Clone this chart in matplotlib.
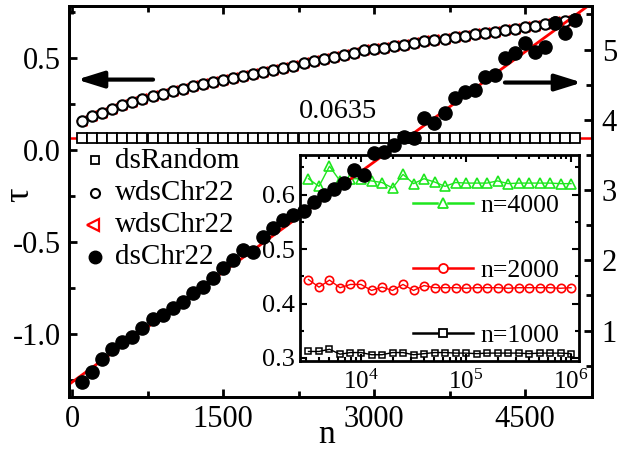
import numpy as np
import matplotlib
matplotlib.use('Agg')
import matplotlib.pyplot as plt
from matplotlib.ticker import MultipleLocator, LogLocator, NullFormatter, FormatStrFormatter

plt.rcParams['font.family'] = ['Liberation Serif', 'DejaVu Serif']
plt.rcParams['mathtext.fontset'] = 'stix'
plt.rcParams['axes.unicode_minus'] = False

# main panel data
n = list(range(100, 5001, 100))
tau_random = 0.0635
tau_wds = [0.156, 0.183, 0.201, 0.223, 0.241, 0.258, 0.277, 0.291, 0.305, 0.318,
           0.331, 0.345, 0.358, 0.369, 0.381, 0.390, 0.401, 0.414, 0.424, 0.435,
           0.446, 0.457, 0.469, 0.484, 0.495, 0.504, 0.516, 0.525, 0.539, 0.547,
           0.552, 0.561, 0.570, 0.579, 0.588, 0.597, 0.603, 0.612, 0.619, 0.626,
           0.634, 0.641, 0.648, 0.655, 0.664, 0.673, 0.682, 0.691, 0.700, 0.708]
ds_chr22 = [0.263, 0.405, 0.589, 0.731, 0.831, 0.915, 1.044, 1.158, 1.229, 1.328,
            1.413, 1.541, 1.626, 1.754, 1.896, 2.010, 2.152, 2.123, 2.337, 2.465,
            2.579, 2.649, 2.706, 2.834, 2.933, 3.018, 3.104, 3.288, 3.217, 3.530,
            3.544, 3.643, 3.757, 3.743, 4.027, 3.956, 4.098, 4.311, 4.396, 4.425,
            4.609, 4.638, 4.879, 4.950, 5.092, 4.964, 5.036, 5.377, 5.234, 5.419]
fit_a = 0.265
fit_b = 0.001045

# inset data
L = [3162, 3981, 5012, 6310, 7943, 10000, 12589, 15849, 19953, 25119, 31623, 39811, 50119,
     63096, 79433, 100000, 125893, 158489, 199526, 251189, 316228, 398107, 501187, 630957,
     794328, 1000000]
tau_n4000 = [0.629, 0.615, 0.652, 0.625, 0.629, 0.629, 0.625, 0.622, 0.612, 0.637, 0.620, 0.629, 0.623,
             0.615, 0.622, 0.621, 0.621, 0.621, 0.625, 0.620, 0.621, 0.621, 0.621, 0.621, 0.620, 0.620]
tau_n2000 = [0.444, 0.430, 0.443, 0.429, 0.435, 0.435, 0.424, 0.430, 0.424, 0.435, 0.424, 0.433, 0.429,
             0.429, 0.429, 0.428, 0.429, 0.429, 0.429, 0.428, 0.429, 0.429, 0.429, 0.429, 0.428, 0.429]
tau_n1000 = [0.312, 0.312, 0.316, 0.307, 0.310, 0.310, 0.306, 0.306, 0.310, 0.310, 0.306, 0.308, 0.310,
             0.310, 0.309, 0.309, 0.308, 0.309, 0.309, 0.309, 0.309, 0.308, 0.309, 0.309, 0.309, 0.308]

green = '#1ee61e'

fig = plt.figure(figsize=(6.17, 4.55), dpi=100)
ax = fig.add_axes([0.1118, 0.1275, 0.8477, 0.8593])
ax.set_zorder(0)

ax.axhline(tau_random, color='red', lw=1.8, zorder=1)
ax.plot(n, [tau_random] * len(n), 's', ms=7.3, mfc='white', mec='black', mew=1.3, zorder=2)
ax.plot(n, tau_wds, '<', ms=7.5, mfc='none', mec='red', mew=1.3, zorder=2)
ax.plot(n, tau_wds, 'o', ms=7.5, mfc='white', mec='black', mew=1.5, zorder=3)

ax.set_xlim(-30, 5165)
ax.set_ylim(-1.34, 0.78)
ax.xaxis.set_major_locator(MultipleLocator(1500))
ax.xaxis.set_minor_locator(MultipleLocator(750))
ax.yaxis.set_major_locator(MultipleLocator(0.5))
ax.yaxis.set_minor_locator(MultipleLocator(0.25))
ax.yaxis.set_major_formatter(FormatStrFormatter('%.1f'))
ax.tick_params(which='both', direction='in', top=True, right=False, width=2, labelsize=22, pad=6)
ax.tick_params(which='major', length=6)
ax.tick_params(which='minor', length=4)
for s in ax.spines.values():
    s.set_linewidth(2)
ax.text(0.493, -0.0972, 'n', ha='center', va='center', fontsize=24, transform=ax.transAxes)
ax.text(-0.094, 0.517, 'τ', rotation=90, ha='center', va='center', fontsize=26,
        transform=ax.transAxes)

ax.text(2640, 0.21, '0.0635', fontsize=20.5, ha='center', va='center')
arrow = dict(arrowstyle='-|>,head_length=0.8,head_width=0.25', lw=3, color='black',
             mutation_scale=20, shrinkA=0, shrinkB=0)
ax.annotate('', xy=(50, 0.381), xytext=(805, 0.381), arrowprops=arrow)
ax.annotate('', xy=(5065, 0.365), xytext=(4300, 0.365), arrowprops=arrow)

# legend of the main panel
ax.plot([0.0497], [0.606], 's', ms=5.5, mfc='white', mec='black', mew=1.3, transform=ax.transAxes)
ax.plot([0.0497], [0.522], 'o', ms=6.5, mfc='white', mec='black', mew=1.5, transform=ax.transAxes)
ax.plot([0.045], [0.440], '<', ms=8, mfc='none', mec='red', mew=1.6, transform=ax.transAxes)
ax.plot([0.0497], [0.358], 'o', ms=9, color='black', transform=ax.transAxes)
for yb, lab in zip([0.585, 0.503, 0.422, 0.340], ['dsRandom', 'wdsChr22', 'wdsChr22', 'dsChr22']):
    ax.text(0.088, yb, lab, fontsize=21, ha='left', va='baseline', transform=ax.transAxes)

# inset
ins = fig.add_axes([0.4862, 0.2066, 0.4522, 0.4527])
ins.set_zorder(1)
ins.plot(L, tau_n4000, '-^', color=green, lw=1, ms=6.5, mfc='none', mew=1.2)
ins.plot(L, tau_n2000, '-o', color='red', lw=1, ms=6, mfc='none', mew=1.2)
ins.plot(L, tau_n1000, '-s', color='black', lw=1, ms=5, mfc='none', mew=1.1)
ins.set_xscale('log')
ins.set_xlim(2624, 1.191e6)
ins.set_ylim(0.2945, 0.6725)
ins.yaxis.set_major_locator(MultipleLocator(0.1))
ins.yaxis.set_minor_locator(MultipleLocator(0.05))
ins.xaxis.set_major_locator(LogLocator(base=10))
ins.xaxis.set_minor_locator(LogLocator(base=10, subs=np.arange(2, 10)))
ins.xaxis.set_minor_formatter(NullFormatter())
ins.tick_params(which='both', direction='in', top=True, right=True, width=1.5, labelsize=19)
ins.tick_params(axis='x', labelsize=18, pad=6)
ins.tick_params(which='major', length=5)
ins.tick_params(which='minor', length=3)
for s in ins.spines.values():
    s.set_linewidth(2)

# legend of the inset: line - marker - line, then the label
for yl, yb, col, mk, ms, lab in [(0.7655, 0.725, green, '^', 7, 'n=4000'),
                                  (0.450, 0.409, 'red', 'o', 6.5, 'n=2000'),
                                  (0.1345, 0.094, 'black', 's', 5.5, 'n=1000')]:
    ins.plot([0.405, 0.491], [yl, yl], color=col, lw=1.8, transform=ins.transAxes)
    ins.plot([0.530, 0.620], [yl, yl], color=col, lw=1.8, transform=ins.transAxes)
    ins.plot([0.5125], [yl], mk, ms=ms, mfc='none', mec=col, mew=1.3, transform=ins.transAxes)
    ins.text(0.645, yb, lab, fontsize=18.5, ha='left', va='baseline', transform=ins.transAxes)

# dsChr22 on the right axis, drawn above the inset
ax2 = ax.twinx()
ax2.set_zorder(2)
ax2.patch.set_visible(False)
nfit = np.array(ax.get_xlim())
ax2.plot(nfit, fit_a + fit_b * nfit, color='red', lw=2, zorder=2)
ax2.plot(n, ds_chr22, 'o', ms=9.5, color='black', zorder=3)
ax2.set_ylim(0.055, 5.62)
ax2.yaxis.set_major_locator(MultipleLocator(1))
ax2.yaxis.set_minor_locator(MultipleLocator(0.5))
ax2.tick_params(which='both', direction='in', width=2, labelsize=22, pad=7)
ax2.tick_params(which='major', length=6)
ax2.tick_params(which='minor', length=4)
for s in ax2.spines.values():
    s.set_linewidth(2)
ax2.set_xlim(ax.get_xlim())

fig.savefig('out.png', dpi=100)
